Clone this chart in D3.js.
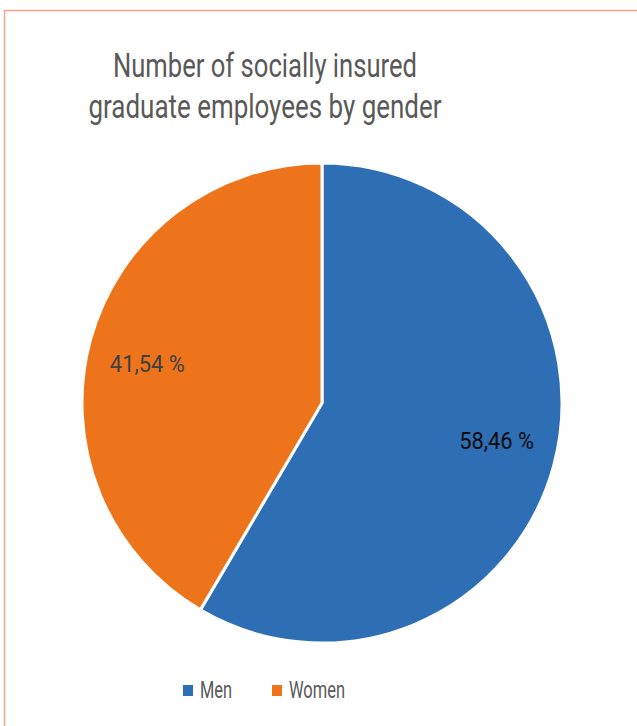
<!DOCTYPE html>
<html>
<head>
<meta charset="utf-8">
<script src="https://cdn.jsdelivr.net/npm/d3@7"></script>
<style>
  html, body { margin: 0; padding: 0; background: #fff; }
  svg { display: block; }
  text { font-family: Roboto, "Open Sans", sans-serif; }
</style>
</head>
<body>
<svg id="chart" width="637" height="726"></svg>
<script>
// Share of socially insured graduate employees by gender (%)
const categories = ["Men", "Women"];
const values = [58.46, 41.54];
const valueLabels = ["58,46 %", "41,54 %"];
const titleLines = ["Number of socially insured", "graduate employees by gender"];

const colors = d3.scaleOrdinal().domain(categories).range(["#2E6EB5", "#EE741B"]);
const labelColors = d3.scaleOrdinal().domain(categories).range(["#0d0d0d", "#404040"]);

const svg = d3.select("#chart");

// Chart frame
svg.append("rect")
  .attr("x", 4.5).attr("y", 10.5)
  .attr("width", 640).attr("height", 730)
  .attr("fill", "none")
  .attr("stroke", "#F4A58A")
  .attr("stroke-width", 1.5);

// Title (condensed face: glyphs squeezed to the line widths)
const titleWidths = [304, 353];
svg.append("g")
  .selectAll("text")
  .data(titleLines)
  .join("text")
  .attr("x", 265)
  .attr("y", (d, i) => 77 + i * 41)
  .attr("text-anchor", "middle")
  .attr("font-size", 34)
  .attr("fill", "#595959")
  .attr("textLength", (d, i) => titleWidths[i])
  .attr("lengthAdjust", "spacingAndGlyphs")
  .text(d => d);

// Pie
const cx = 322, cy = 403, radius = 240;
const pie = d3.pie().sort(null).value(d => d.value);
const arcs = pie(categories.map((c, i) => ({ name: c, value: values[i], label: valueLabels[i] })));
const arc = d3.arc().innerRadius(0).outerRadius(radius);

const g = svg.append("g").attr("transform", `translate(${cx},${cy})`);

g.selectAll("path")
  .data(arcs)
  .join("path")
  .attr("d", arc)
  .attr("fill", d => colors(d.data.name))
  .attr("stroke", "#fff")
  .attr("stroke-width", 3)
  .attr("stroke-linejoin", "round");

// Value labels placed along each slice's mid-angle
const labelRx = 181, labelRy = 145;
const labelPos = d => {
  const a = (d.startAngle + d.endAngle) / 2;
  return [Math.sin(a) * labelRx, -Math.cos(a) * labelRy];
};
g.selectAll("text.value")
  .data(arcs)
  .join("text")
  .attr("class", "value")
  .attr("transform", d => `translate(${labelPos(d)})`)
  .attr("text-anchor", "middle")
  .attr("dominant-baseline", "central")
  .attr("font-size", 23)
  .attr("fill", d => labelColors(d.data.name))
  .attr("textLength", 75)
  .attr("lengthAdjust", "spacingAndGlyphs")
  .text(d => d.data.label);

// Legend
const legendItems = [
  { name: "Men", x: 183, w: 32 },
  { name: "Women", x: 272, w: 56 }
];
const items = svg.append("g").selectAll("g")
  .data(legendItems)
  .join("g")
  .attr("transform", d => `translate(${d.x},685)`);
items.append("rect")
  .attr("width", 10).attr("height", 11)
  .attr("fill", d => colors(d.name));
items.append("text")
  .attr("x", 17).attr("y", 13)
  .attr("font-size", 23)
  .attr("fill", "#595959")
  .attr("textLength", d => d.w)
  .attr("lengthAdjust", "spacingAndGlyphs")
  .text(d => d.name);
</script>
</body>
</html>
